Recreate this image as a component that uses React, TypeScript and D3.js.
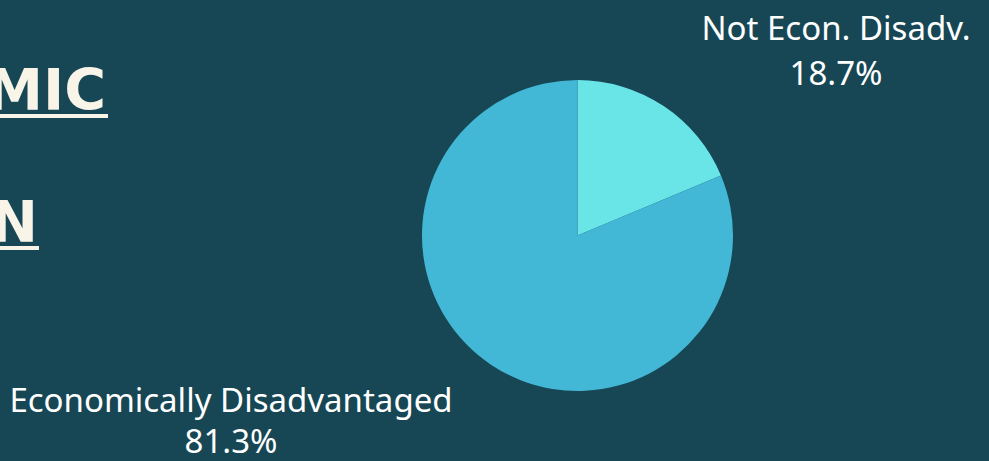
import React from "react";
import * as d3 from "d3";

const categories = ["Not Econ. Disadv.", "Economically Disadvantaged"];
const values = [18.7, 81.3];
const valueLabels = ["18.7%", "81.3%"];
const titleLines = ["SOCIOECONOMIC", "DISTRIBUTION"];

const W = 989;
const H = 461;
const BG = "#174755";
const COLORS = ["#69e5e8", "#42b8d6"];
const CREAM = "#f8f4e8";

export default function App() {
  const cx = 577.5;
  const cy = 235.5;
  const r = 155.5;
  const pie = d3.pie<number>().sort(null).value((d) => d)(values);
  const arc = d3.arc<d3.PieArcDatum<number>>().innerRadius(0).outerRadius(r);
  const labelPos = [
    { x: 836, y1: 40, y2: 85 },
    { x: 231, y1: 412, y2: 453 },
  ];
  return (
    <div style={{ position: "fixed", left: 0, top: 0, width: W, height: H }}>
      <svg width={W} height={H} style={{ display: "block" }}>
        <rect x={0} y={0} width={W} height={H} fill={BG} />
        <g fontFamily="'DejaVu Sans', sans-serif" fontWeight="bold" fill={CREAM}>
          <text x={106} y={110} fontSize={57} textAnchor="end">{titleLines[0]}</text>
          <rect x={-400} y={114} width={508} height={4} fill={CREAM} />
          <text x={38} y={242} fontSize={57} textAnchor="end">{titleLines[1]}</text>
          <rect x={-500} y={246} width={539} height={4} fill={CREAM} />
        </g>
        <g transform={`translate(${cx},${cy})`}>
          {pie.map((p, i) => (
            <path key={i} d={arc(p) || ""} fill={COLORS[i]} />
          ))}
        </g>
        <g fontFamily="'Noto Sans', sans-serif" fill="#ffffff" fontSize={33} textAnchor="middle">
          {categories.map((c, i) => (
            <g key={c}>
              <text x={labelPos[i].x} y={labelPos[i].y1}>{c}</text>
              <text x={labelPos[i].x} y={labelPos[i].y2}>{valueLabels[i]}</text>
            </g>
          ))}
        </g>
      </svg>
    </div>
  );
}
